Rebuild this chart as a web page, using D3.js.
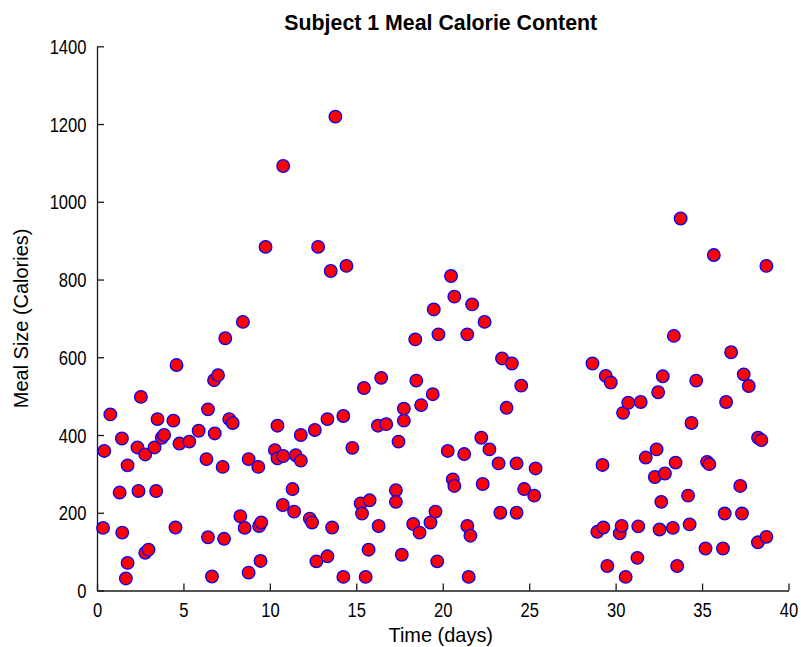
<!DOCTYPE html>
<html>
<head>
<meta charset="utf-8">
<script src="https://cdn.jsdelivr.net/npm/d3@7"></script>
<style>
  html, body { margin: 0; padding: 0; background: #fff; }
  svg { display: block; }
  text { font-family: "Liberation Sans", Arial, Helvetica, sans-serif; fill: #000; }
</style>
</head>
<body>
<svg id="chart" width="801" height="647"></svg>
<script>
// Meal times (days since start) and calorie content for subject 1
const days = [
  0.35, 0.42, 0.77, 1.31, 1.44, 1.46, 1.67, 1.77, 1.77, 2.34,
  2.40, 2.54, 2.79, 2.79, 2.98, 3.33, 3.42, 3.50, 3.75, 3.88,
  4.42, 4.54, 4.60, 4.77, 5.34, 5.88, 6.33, 6.42, 6.42, 6.65,
  6.77, 6.81, 7.00, 7.27, 7.35, 7.42, 7.65, 7.85, 8.29, 8.44,
  8.54, 8.77, 8.77, 9.33, 9.38, 9.46, 9.50, 9.75, 10.29, 10.44,
  10.44, 10.75, 10.77, 10.77, 11.31, 11.40, 11.50, 11.79, 11.79, 12.31,
  12.44, 12.60, 12.69, 12.79, 13.33, 13.33, 13.52, 13.60, 13.79, 14.25,
  14.25, 14.43, 14.77, 15.25, 15.33, 15.44, 15.54, 15.71, 15.77, 16.25,
  16.29, 16.44, 16.73, 17.29, 17.29, 17.44, 17.63, 17.75, 17.75, 18.29,
  18.41, 18.47, 18.66, 18.75, 19.29, 19.42, 19.48, 19.58, 19.68, 19.75,
  20.29, 20.48, 20.58, 20.67, 20.67, 21.24, 21.42, 21.42, 21.50, 21.60,
  21.70, 22.23, 22.31, 22.42, 22.70, 23.23, 23.33, 23.43, 23.69, 24.00,
  24.27, 24.27, 24.54, 24.71, 25.29, 25.37, 28.66, 28.94, 29.24, 29.29,
  29.43, 29.52, 29.72, 30.24, 30.35, 30.43, 30.58, 30.73, 31.26, 31.31,
  31.45, 31.74, 32.27, 32.37, 32.46, 32.54, 32.64, 32.73, 32.85, 33.31,
  33.37, 33.47, 33.56, 33.76, 34.19, 34.28, 34.39, 34.66, 35.20, 35.29,
  35.42, 35.68, 36.21, 36.31, 36.39, 36.68, 37.21, 37.31, 37.41, 37.70,
  38.23, 38.24, 38.43, 38.72, 38.72
];
const calories = [
  161, 359, 453, 252, 391, 149, 31, 322, 71, 368,
  256, 498, 350, 97, 105, 368, 256, 441, 393, 400,
  437, 162, 580, 378, 383, 411, 338, 466, 137, 36,
  541, 404, 554, 318, 133, 649, 441, 431, 191, 691,
  161, 338, 46, 318, 166, 76, 175, 884, 361, 424,
  340, 220, 346, 1092, 261, 203, 348, 334, 400, 185,
  175, 413, 75, 884, 441, 88, 822, 162, 1219, 449,
  35, 835, 367, 224, 198, 521, 35, 105, 232, 424,
  166, 547, 428, 258, 228, 383, 92, 468, 437, 171,
  646, 540, 149, 477, 175, 505, 723, 203, 75, 659,
  359, 809, 286, 269, 756, 351, 659, 166, 35, 141,
  736, 393, 274, 691, 363, 327, 200, 597, 470, 584,
  327, 200, 527, 261, 244, 314, 584, 151, 323, 162,
  552, 63, 535, 147, 166, 457, 35, 483, 84, 165,
  485, 342, 292, 363, 510, 157, 228, 551, 301, 161,
  655, 329, 63, 957, 244, 170, 431, 540, 108, 331,
  325, 863, 108, 198, 485, 613, 269, 198, 556, 526,
  124, 393, 387, 138, 835
];
const xTicks = [0, 5, 10, 15, 20, 25, 30, 35, 40];
const yTicks = [0, 200, 400, 600, 800, 1000, 1200, 1400];

const meals = days.map((d, i) => ({ day: d, kcal: calories[i] }));

const svg = d3.select("#chart");
const plot = { left: 97, right: 788.5, top: 46.3, bottom: 590.5 };

const x = d3.scaleLinear().domain([0, 40]).range([plot.left, plot.right]);
const y = d3.scaleLinear().domain([0, 1400]).range([plot.bottom, plot.top]);

const axisColor = "#1a1a1a";
const tickLen = 7;

// x axis, ticks pointing into the plot
const gx = svg.append("g")
  .attr("transform", `translate(0,${plot.bottom})`)
  .call(d3.axisBottom(x).tickValues(xTicks).tickFormat(d3.format("d"))
    .tickSizeInner(-tickLen).tickSizeOuter(0).tickPadding(0));
gx.select(".domain").attr("stroke", axisColor).attr("stroke-width", 1.3);
gx.selectAll(".tick line").attr("stroke", axisColor).attr("stroke-width", 1.3);
gx.selectAll(".tick text")
  .attr("y", null).attr("dy", null)
  .attr("font-size", 19.5)
  .attr("fill", "#000")
  .attr("transform", "translate(0,26) scale(0.85,1)");

// y axis, ticks pointing into the plot
const gy = svg.append("g")
  .attr("transform", `translate(${plot.left},0)`)
  .call(d3.axisLeft(y).tickValues(yTicks).tickFormat(d3.format("d"))
    .tickSizeInner(-tickLen).tickSizeOuter(0).tickPadding(0));
gy.select(".domain").attr("stroke", axisColor).attr("stroke-width", 1.3);
gy.selectAll(".tick line").attr("stroke", axisColor).attr("stroke-width", 1.3);
gy.selectAll(".tick text")
  .attr("x", null).attr("dy", null)
  .attr("font-size", 19.5)
  .attr("fill", "#000")
  .attr("transform", "translate(-10.5,7) scale(0.85,1)");

// let the stylesheet font apply to axis text
svg.selectAll("g").attr("font-family", null).attr("font-size", null);

// meal markers: red face, blue edge
svg.append("g")
  .selectAll("circle")
  .data(meals)
  .join("circle")
  .attr("cx", d => x(d.day))
  .attr("cy", d => y(d.kcal))
  .attr("r", 6.3)
  .attr("fill", "#ff0000")
  .attr("stroke", "#0000ff")
  .attr("stroke-width", 1.3);

// title and axis labels
svg.append("text")
  .attr("transform", `translate(${(plot.left + plot.right) / 2 - 2},30) scale(0.97,1)`)
  .attr("text-anchor", "middle")
  .attr("font-size", 22)
  .attr("font-weight", "bold")
  .text("Subject 1 Meal Calorie Content");

svg.append("text")
  .attr("transform", `translate(${(plot.left + plot.right) / 2 - 2},642) scale(0.95,1)`)
  .attr("text-anchor", "middle")
  .attr("font-size", 21)
  .text("Time (days)");

svg.append("text")
  .attr("transform", `translate(28,${(plot.top + plot.bottom) / 2}) rotate(-90) scale(0.95,1)`)
  .attr("text-anchor", "middle")
  .attr("font-size", 21)
  .text("Meal Size (Calories)");
</script>
</body>
</html>
